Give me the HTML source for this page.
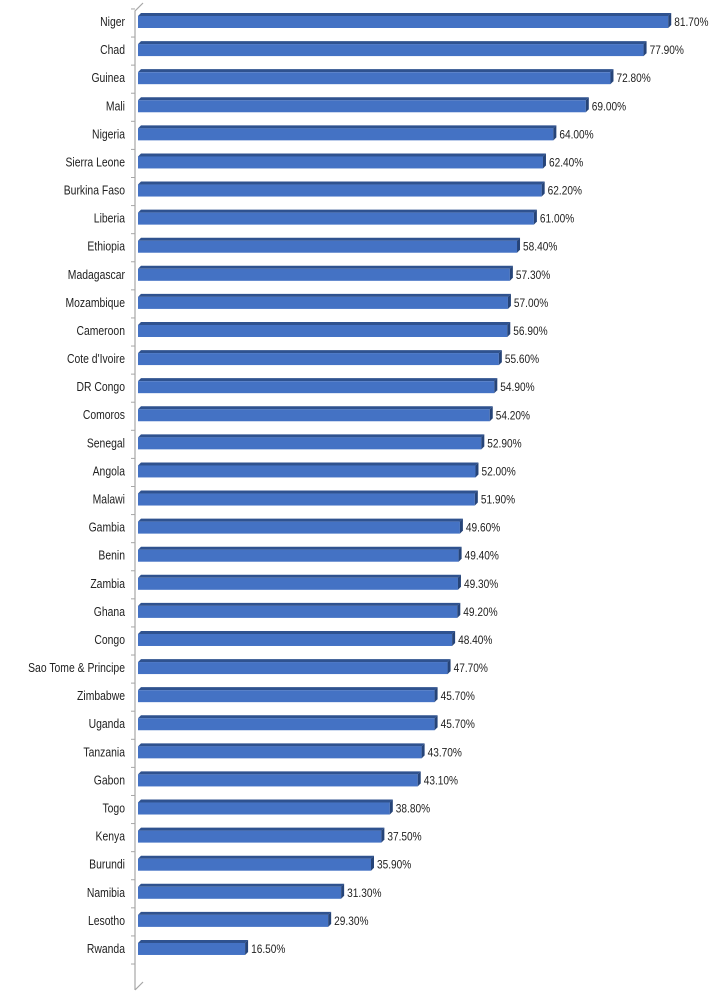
<!DOCTYPE html>
<html><head><meta charset="utf-8"><style>
body{margin:0;background:#fff;}
svg{display:block;font-family:"Liberation Sans",sans-serif;}
</style></head><body>
<svg id="chart" width="709" height="993" viewBox="0 0 709 993"></svg>
<script>
const categories=["Niger","Chad","Guinea","Mali","Nigeria","Sierra Leone","Burkina Faso","Liberia","Ethiopia","Madagascar","Mozambique","Cameroon","Cote d'Ivoire","DR Congo","Comoros","Senegal","Angola","Malawi","Gambia","Benin","Zambia","Ghana","Congo","Sao Tome & Principe","Zimbabwe","Uganda","Tanzania","Gabon","Togo","Kenya","Burundi","Namibia","Lesotho","Rwanda"];
const values=[81.7,77.9,72.8,69.0,64.0,62.4,62.2,61.0,58.4,57.3,57.0,56.9,55.6,54.9,54.2,52.9,52.0,51.9,49.6,49.4,49.3,49.2,48.4,47.7,45.7,45.7,43.7,43.1,38.8,37.5,35.9,31.3,29.3,16.5];
const NS="http://www.w3.org/2000/svg";
const svg=document.getElementById('chart');
const x0=138,k=6.49,y0=20,step=28.09,sx=0.8;
const xs=v=>x0+v*k;
const yc=i=>y0+i*step;
function mk(t,a,p){const e=document.createElementNS(NS,t);for(const n in a)e.setAttribute(n,a[n]);(p||svg).appendChild(e);return e;}
const axis=mk('path',{d:"M143 3 L135 11 L135 990 M135 990 L143 982",stroke:"#a6a6a6","stroke-width":1.2,fill:"none"});


for(let i=0;i<=categories.length;i++){
  const ty=yc(i)-step/2+3;
  const t=mk('line',{x1:131,x2:135,y1:ty,y2:ty,stroke:"#a6a6a6"});
  
  
}
categories.forEach((c,i)=>{
  const cy=yc(i),xe=xs(values[i]);
  const g=mk('g',{});
  
  
  mk('polygon',{points:`${x0},${cy-4} ${x0+3},${cy-7} ${xe+3},${cy-7} ${xe},${cy-4}`,fill:"#2f528f"},g);
  mk('rect',{x:x0,y:cy-4,width:xe-x0,height:12,fill:"#4472c4"},g);
  mk('polygon',{points:`${xe},${cy-4} ${xe+3},${cy-7} ${xe+3},${cy+5} ${xe},${cy+8}`,fill:"#264478"},g);
  const lab=mk('text',{x:(xe+6)/0.88,y:cy+6,"font-size":11.5,fill:"#222",transform:"scale(0.88,1)"},g);
  lab.textContent=values[i].toFixed(2)+"%";
  
  
  const cl=mk('text',{x:125/sx,y:cy+6,"font-size":13,"text-anchor":"end",fill:"#222",transform:`scale(${sx},1)`});
  cl.textContent=c;
  
  
});
</script>
</body></html>
